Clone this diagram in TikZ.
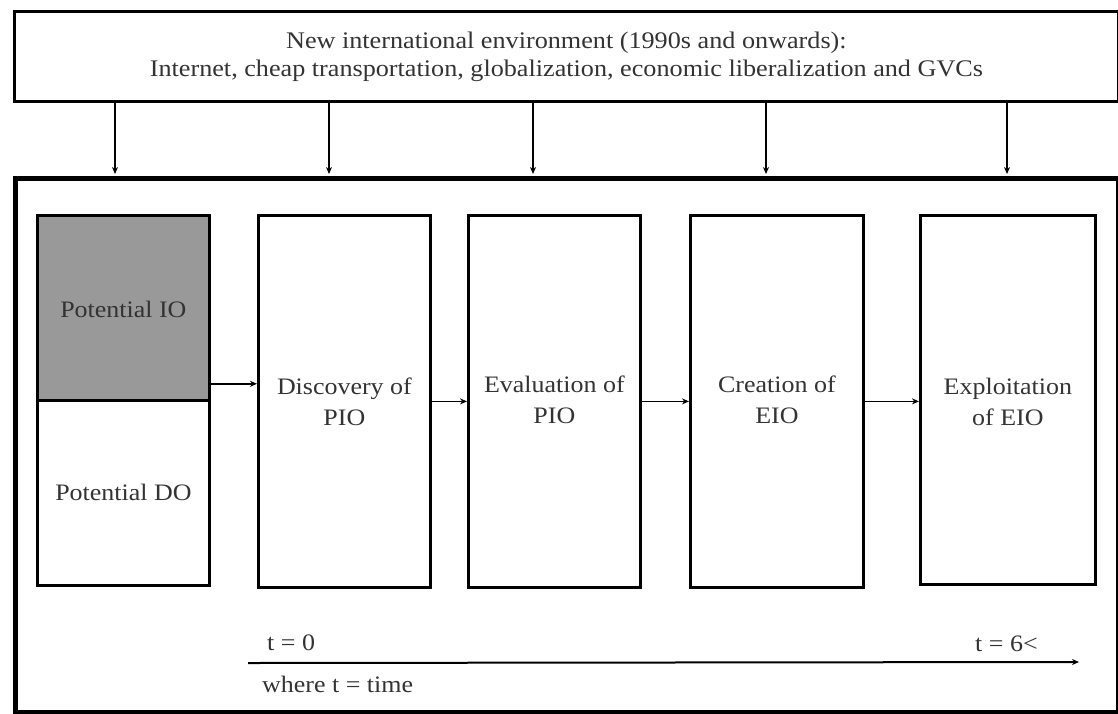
\documentclass[tikz,border=0pt]{standalone}
\usepackage{fontspec}
\setmainfont{Liberation Serif}[FakeStretch=1.1]
\usetikzlibrary{arrows.meta,calc}
\begin{document}
\begin{tikzpicture}[x=1pt,y=-1pt,
  every node/.style={font=\fontsize{23.6}{30}\selectfont, text=black!80},
  stagebox/.style={draw=black, line width=2.8pt, minimum width=172pt, minimum height=372pt, anchor=north west, inner sep=0pt, align=center},
  halfbox/.style={draw=black, line width=2.8pt, minimum width=172pt, minimum height=185pt, anchor=north west, inner sep=0pt},
  envbox/.style={draw=black, line width=2.8pt, minimum width=1104pt, minimum height=90pt, anchor=north west, inner sep=0pt, align=center, font=\fontsize{23.8}{28}\selectfont},
  framebox/.style={draw=black, line width=5pt, minimum width=1103pt, minimum height=534pt, anchor=north west, inner sep=0pt},
  arr/.style={draw=black, line width=1.6pt, -{Stealth[length=7pt,width=6pt]}},
  stagetext/.style={align=center, font=\fontsize{23.6}{31}\selectfont},
  lbl/.style={anchor=base west, inner sep=0pt}
]
\useasboundingbox (0,0) rectangle (1118,713);
\node[envbox] (env) at (13,10) {New international environment (1990s and onwards):\\Internet, cheap transportation, globalization, economic liberalization and GVCs};
\node[framebox] (frame) at (13,176) {};
\foreach \x in {115,329,533,766,1007}
  \draw[arr, shorten >=2pt] (\x,0 |- env.south) -- (\x,0 |- frame.north);
\node[halfbox, fill=black!40] (pio) at (36,214) {};
\node[halfbox] (pdo) at (36,399) {};
\node at ($(pio.center)+(0,2)$) {Potential IO};
\node at ($(pdo.center)+(0,0)$) {Potential DO};
\node[stagebox] (disc) at (257,214) {};
\node[stagebox] (eval) at (467,214) {};
\node[stagebox, minimum width=173pt] (crea) at (689,214) {};
\node[stagebox, minimum width=175pt, minimum height=369pt] (expl) at (919,214) {};
\node[stagetext] at ($(disc.center)+(0,0)$) {Discovery of\\PIO};
\node[stagetext] at ($(eval.center)+(0,-2)$) {Evaluation of\\PIO};
\node[stagetext] at ($(crea.center)+(0,-2)$) {Creation of\\EIO};
\node[stagetext] at ($(expl.center)+(0,2)$) {Exploitation\\of EIO};
\draw[arr] ([yshift=18pt]pio.south east) -- ([yshift=18pt]pio.south east -| disc.west);
\draw[arr] (disc.east) -- (disc.east -| eval.west);
\draw[arr] (eval.east) -- (eval.east -| crea.west);
\draw[arr] (crea.east) -- (crea.east -| expl.west);
\coordinate (tstart) at (248,663);
\coordinate (tend) at (1079,662);
\draw[arr, line width=2pt] (tstart) -- (tend);
\node[lbl] (t0) at (267,650) {t = 0};
\node[lbl] (t6) at (975,651) {t = 6<};
\node[lbl] (where) at (262,692) {where t = time};
\end{tikzpicture}
\end{document}
